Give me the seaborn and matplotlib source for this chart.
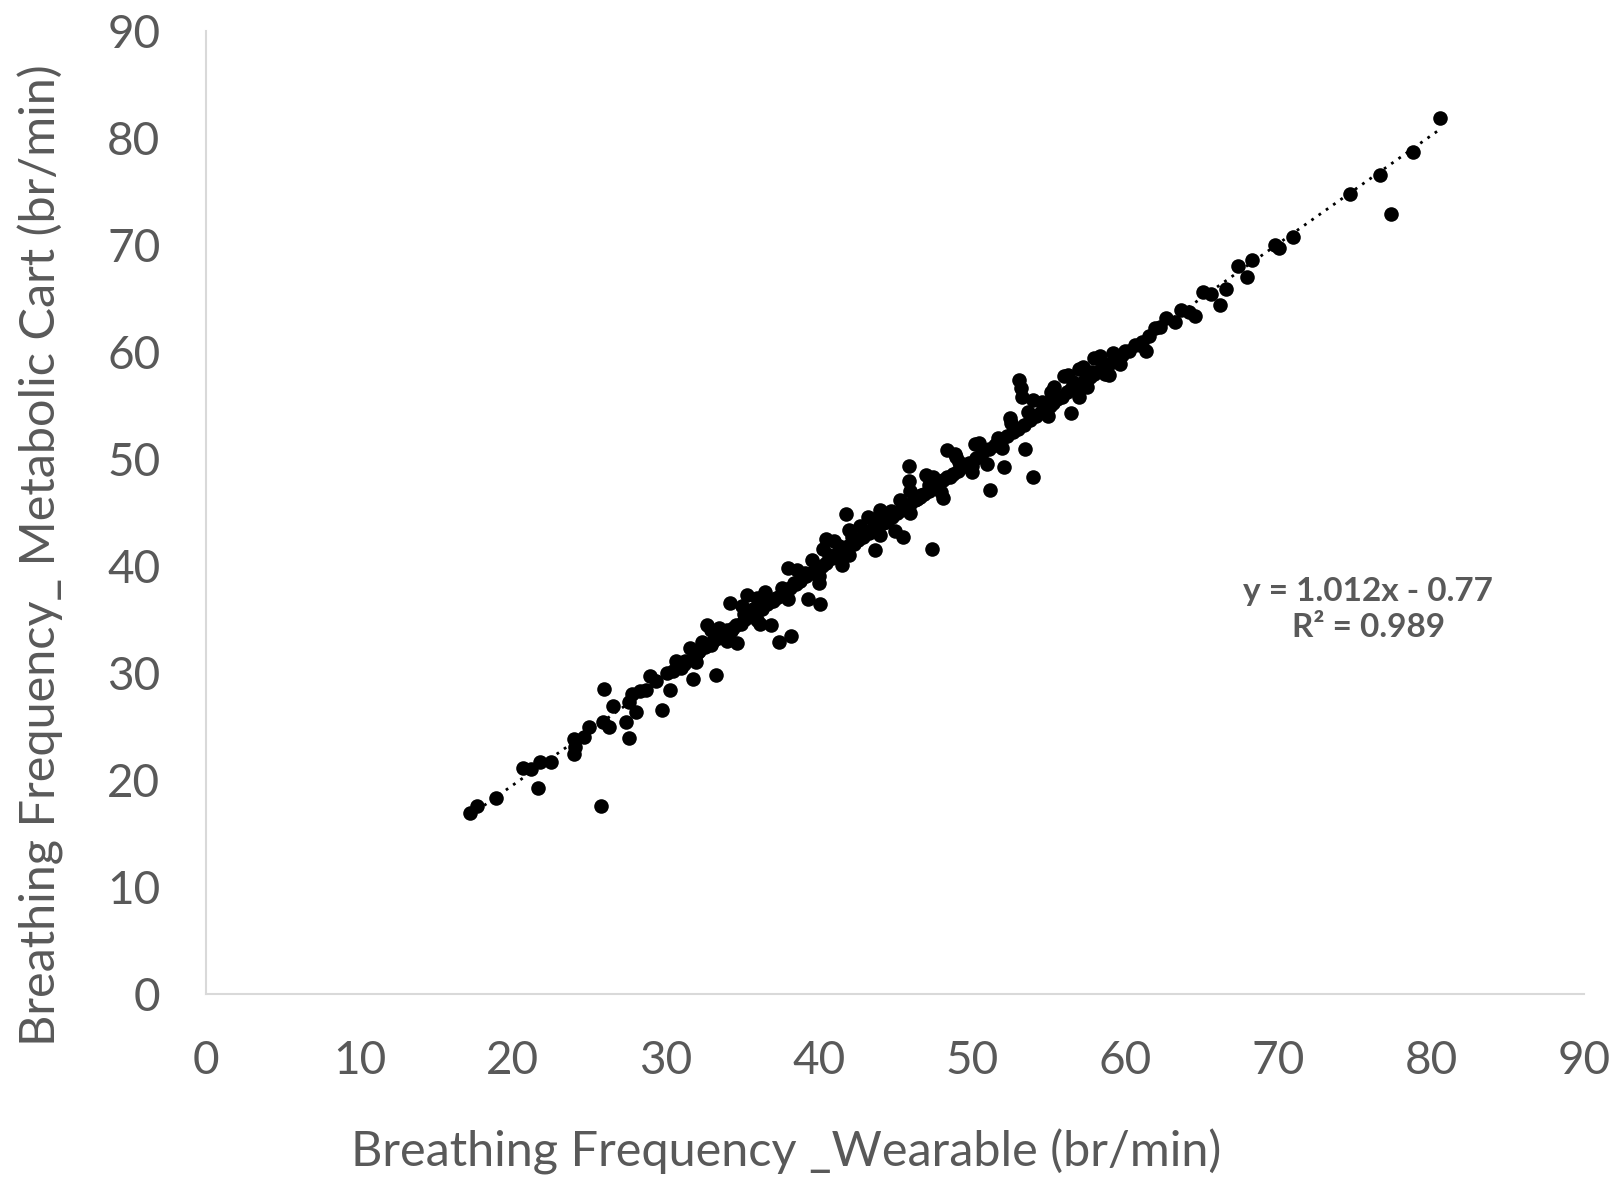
import numpy as np
import pandas as pd
import seaborn as sns
import matplotlib.pyplot as plt

# wearable vs metabolic cart breathing frequency (br/min)
wearable = [
    17.2, 17.7, 18.9, 20.7, 21.2, 21.8, 21.7, 22.5, 24.0, 24.0, 24.1, 24.7, 25.0, 25.8,
    26.0, 25.9, 26.3, 26.6, 27.4, 27.6, 27.6, 27.8, 28.1, 28.3, 28.7, 29.0, 29.4, 29.8,
    30.1, 30.3, 30.7, 31.0, 31.3, 31.6, 31.8, 32.1, 32.4, 32.7, 33.0, 33.3, 33.5, 33.9,
    34.2, 34.4, 34.7, 35.1, 35.3, 35.7, 36.2, 36.5, 36.9, 37.0, 37.4, 37.6, 38.0, 38.2,
    38.4, 39.1, 39.3, 39.6, 40.0, 40.1, 40.5, 40.7, 41.3, 41.5, 41.8, 42.2, 42.7, 43.2,
    43.5, 43.7, 43.9, 44.4, 44.7, 45.0, 45.3, 45.5, 45.9, 45.9, 46.4, 46.7, 47.2, 47.4,
    47.5, 48.1, 48.4, 48.6, 48.9, 49.2, 50.0, 50.2, 51.0, 51.2, 51.7, 52.1, 52.6, 53.1,
    53.2, 53.3, 53.5, 53.7, 54.0, 54.6, 55.1, 55.4, 56.0, 56.5, 56.6, 57.0, 57.5, 57.8,
    58.4, 58.7, 59.2, 59.7, 60.0, 61.0, 61.4, 62.0, 62.7, 63.3, 63.7, 64.2, 64.6, 65.1,
    65.6, 66.2, 66.6, 67.4, 68.0, 68.3, 69.8, 70.1, 71.0, 74.7, 76.7, 77.4, 78.8, 80.6,
    30.5, 31.2, 31.9, 32.2, 32.6, 33.1, 33.4, 33.8, 34.0, 34.3, 34.6, 34.9, 35.2, 35.5,
    35.8, 36.0, 36.3, 36.6, 36.9, 37.2, 37.5, 37.8, 38.1, 38.5, 38.8, 39.2, 39.5, 39.8,
    40.2, 40.5, 40.9, 41.2, 41.6, 41.9, 42.3, 42.6, 42.9, 43.3, 43.6, 43.9, 44.2, 44.5,
    44.8, 45.1, 45.4, 45.7, 46.0, 46.3, 46.6, 46.9, 47.2, 47.5, 47.8, 48.1, 48.4, 48.8,
    49.1, 49.5, 49.8, 50.3, 50.7, 51.1, 51.5, 51.9, 52.3, 52.7, 53.0, 53.4, 53.8, 54.2,
    54.5, 54.9, 55.3, 55.6, 55.9, 56.2, 56.5, 56.8, 57.1, 57.4, 57.7, 58.0, 58.3, 58.6,
    59.0, 59.4, 59.8, 60.3, 60.7, 61.1, 61.6, 62.3,
    33.0, 35.0, 36.0, 38.6, 40.3, 41.0, 42.0, 44.0, 46.0, 47.0, 49.0, 50.5, 52.5, 54.0,
    55.2, 56.3, 57.3, 58.0, 32.0, 34.0, 36.0, 38.0, 40.0, 42.0, 44.0, 46.0, 48.0, 50.0,
    52.0, 55.0, 57.0, 59.0,
]
metabolic = [
    16.9, 17.5, 18.3, 21.1, 21.0, 21.7, 19.2, 21.7, 23.8, 22.4, 23.1, 24.0, 24.9, 17.5,
    28.5, 25.4, 24.9, 26.9, 25.4, 23.9, 27.3, 28.0, 26.3, 28.3, 28.4, 29.7, 29.2, 26.5,
    30.0, 28.4, 31.1, 30.4, 31.1, 32.3, 29.4, 31.9, 32.9, 34.5, 32.6, 29.8, 34.2, 33.8,
    36.5, 34.2, 32.8, 35.5, 37.3, 36.0, 34.6, 37.5, 34.5, 36.7, 32.9, 37.9, 39.8, 33.4,
    38.4, 39.3, 36.9, 40.5, 38.4, 36.4, 42.5, 41.0, 41.8, 40.1, 44.8, 42.7, 43.7, 44.6,
    43.4, 41.5, 44.6, 44.1, 45.1, 43.2, 46.1, 42.7, 49.3, 47.9, 46.2, 46.6, 47.5, 41.6,
    48.3, 46.3, 50.8, 48.3, 50.4, 49.7, 49.3, 51.4, 49.5, 47.1, 51.9, 49.2, 53.3, 57.4,
    56.6, 55.8, 50.9, 54.4, 48.3, 55.3, 54.9, 56.7, 57.7, 54.3, 57.2, 58.4, 56.7, 58.1,
    59.6, 57.9, 59.9, 58.9, 60.1, 60.6, 60.1, 62.2, 63.2, 62.8, 63.9, 63.7, 63.3, 65.6,
    65.4, 64.4, 65.9, 68.0, 67.0, 68.6, 70.0, 69.7, 70.7, 74.7, 76.5, 72.9, 78.7, 81.8,
    30.2, 30.8, 31.5, 32.0, 32.4, 33.0, 33.2, 33.4, 34.0, 33.9, 34.5, 34.6, 35.0, 35.3,
    35.6, 35.8, 36.0, 36.4, 36.7, 37.0, 37.2, 37.6, 37.9, 38.3, 38.6, 39.0, 39.3, 39.8,
    40.0, 40.3, 40.7, 41.0, 41.4, 41.8, 42.0, 42.4, 42.7, 43.1, 43.4, 43.7, 44.0, 44.3,
    44.6, 44.9, 45.2, 45.5, 45.8, 46.1, 46.4, 46.7, 47.0, 47.3, 47.6, 48.0, 48.3, 48.6,
    48.9, 49.3, 49.6, 50.1, 50.5, 50.9, 51.3, 51.7, 52.1, 52.5, 52.8, 53.2, 53.6, 54.0,
    54.4, 54.8, 55.2, 55.6, 55.8, 56.2, 56.5, 56.7, 57.0, 57.4, 57.6, 57.9, 58.2, 58.5,
    58.9, 59.3, 59.7, 60.1, 60.6, 60.9, 61.5, 62.3,
    34.0, 36.2, 37.0, 39.6, 41.6, 42.3, 43.3, 45.2, 47.0, 48.5, 50.2, 51.5, 53.8, 55.5,
    56.2, 57.8, 58.6, 59.4, 31.0, 33.0, 34.9, 36.9, 39.0, 41.0, 42.9, 44.9, 46.9, 48.8,
    51.0, 54.0, 55.8, 57.8,
]
ticks = [0, 10, 20, 30, 40, 50, 60, 70, 80, 90]
slope, intercept, r2 = 1.012, -0.77, 0.989

df = pd.DataFrame({"wearable": wearable, "metabolic": metabolic})

sns.set_style("white")
plt.rcParams["font.family"] = ["Lato", "DejaVu Sans"]
grey = "#595959"

fig = plt.figure(figsize=(16.18, 11.83), dpi=100)
ax = fig.add_axes([0.1275, 0.160, 0.8515, 0.814])

sns.scatterplot(data=df, x="wearable", y="metabolic", color="black", s=110,
                linewidth=0, ax=ax)

# linear trendline (dotted)
xl = np.array([df["wearable"].min(), df["wearable"].max()])
ax.plot(xl, slope * xl + intercept, color="black", linestyle=(0, (1, 2.2)), linewidth=2)

ax.text(75.9, 35.9, f"y = {slope:.3f}x - {abs(intercept):.2f}\nR² = {r2:.3f}",
        ha="center", va="center", fontsize=24, fontweight="bold", color=grey,
        linespacing=1.3)

ax.set_xlim(0, 90)
ax.set_ylim(0, 90)
ax.set_xticks(ticks)
ax.set_yticks(ticks)
ax.tick_params(axis="both", length=0, labelsize=33, labelcolor=grey, pad=33)

for side in ["top", "right"]:
    ax.spines[side].set_visible(False)
for side in ["left", "bottom"]:
    ax.spines[side].set_color("#d9d9d9")
    ax.spines[side].set_linewidth(1.5)

ax.set_xlabel("Breathing Frequency _Wearable (br/min)", fontsize=35, color=grey)
ax.set_ylabel("Breathing Frequency_ Metabolic Cart (br/min)", fontsize=35, color=grey)
# labels in the original are not centred on the plot area
ax.xaxis.set_label_coords(0.421, -0.14)
ax.yaxis.set_label_coords(-0.103, 0.455)

fig.savefig("out.png", dpi=100)
